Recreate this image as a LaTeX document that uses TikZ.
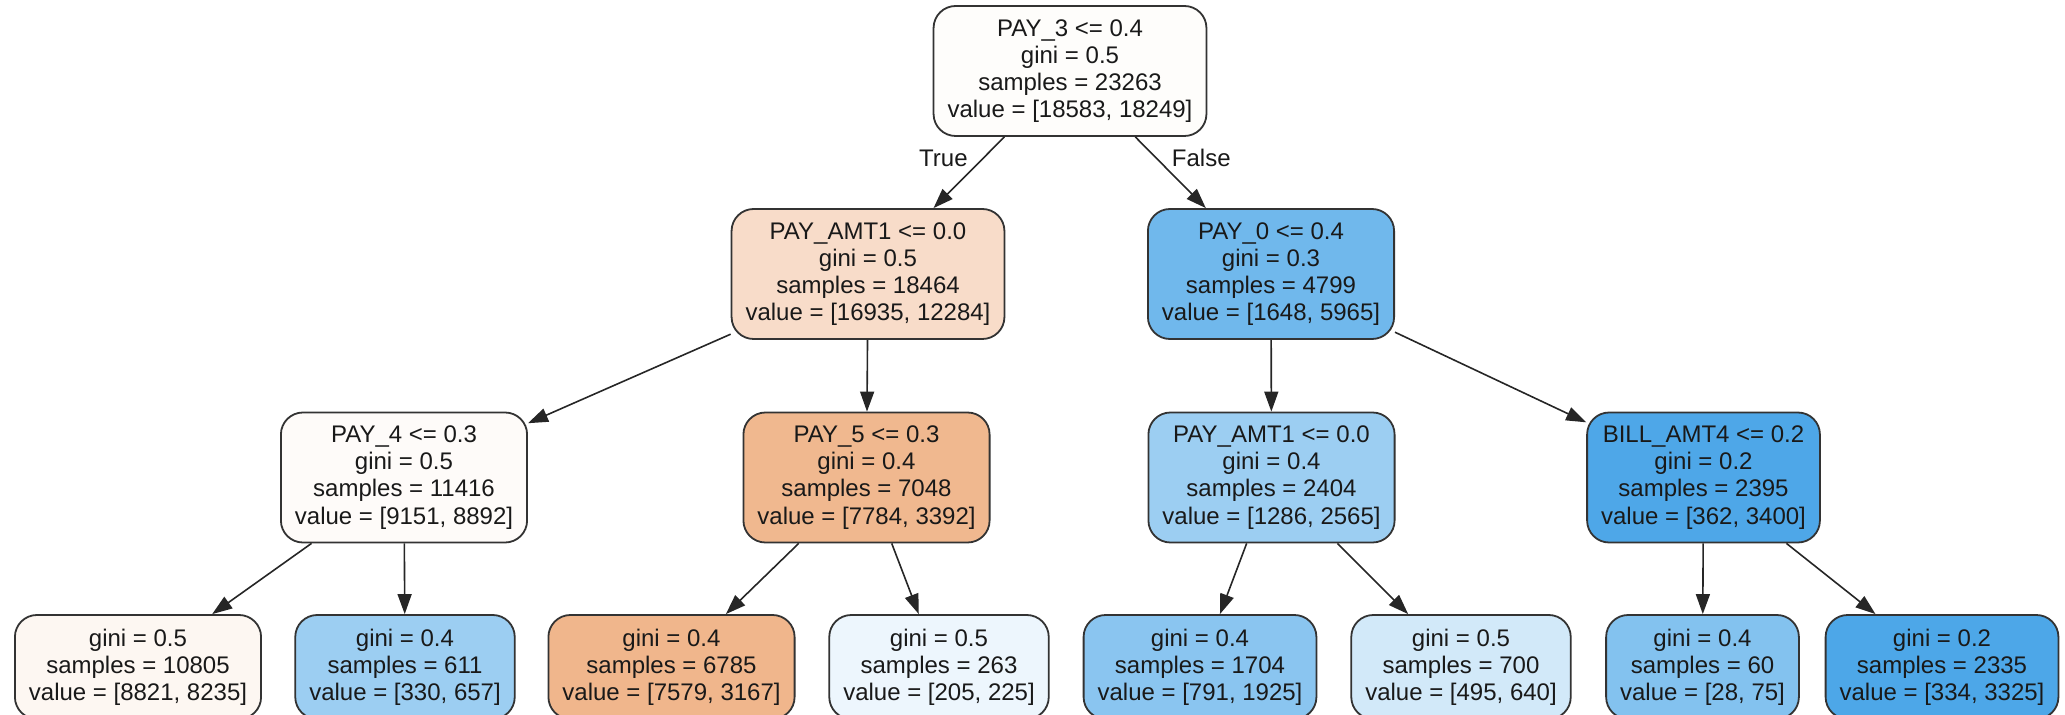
\documentclass[tikz,border=0pt]{standalone}
\usepackage{fontspec}
\setmainfont{Liberation Sans}
\usepackage{xcolor}
\usetikzlibrary{arrows.meta, positioning}

% node fills (class 0 orange, class 1 blue)
\definecolor{fillroot}{RGB}{254,253,251}
\definecolor{fillamtl}{RGB}{248,220,201}
\definecolor{fillpayz}{RGB}{112,184,236}
\definecolor{fillpayf}{RGB}{254,251,249}
\definecolor{fillpayv}{RGB}{240,184,143}
\definecolor{fillamtr}{RGB}{156,206,242}
\definecolor{fillbill}{RGB}{78,167,232}
\definecolor{leafa}{RGB}{253,247,242}
\definecolor{leafb}{RGB}{156,206,242}
\definecolor{leafc}{RGB}{240,182,140}
\definecolor{leafd}{RGB}{237,246,253}
\definecolor{leafe}{RGB}{138,197,240}
\definecolor{leaff}{RGB}{210,233,249}
\definecolor{leafg}{RGB}{131,194,239}
\definecolor{leafh}{RGB}{77,167,232}

\begin{document}
\begin{tikzpicture}[x=0.5pt, y=-0.5pt,
    font=\fontsize{12}{13.6}\selectfont, text=black!90,
    box/.style={draw=black!80, line width=0.9pt, rounded corners=11pt, align=center, inner xsep=7pt, inner ysep=2pt},
    split/.style={box, minimum height=65pt},
    leaf/.style={box, minimum height=52pt},
    edge/.style={-{Triangle[length=10pt, width=7pt]}, line width=0.8pt, draw=black!85}]
    \useasboundingbox (0,0) rectangle (2065,715);

    % level 0 and 1
    \node (root) [split, fill=fillroot] at (1070,71) {PAY\_3 <= 0.4\\gini = 0.5\\samples = 23263\\value = [18583, 18249]};
    \node (amtl) [split, fill=fillamtl] at (868,274) {PAY\_AMT1 <= 0.0\\gini = 0.5\\samples = 18464\\value = [16935, 12284]};
    \node (payz) [split, fill=fillpayz] at (1271,274) {PAY\_0 <= 0.4\\gini = 0.3\\samples = 4799\\value = [1648, 5965]};

    % level 2
    \node (payf) [split, fill=fillpayf] at (404,477.5) {PAY\_4 <= 0.3\\gini = 0.5\\samples = 11416\\value = [9151, 8892]};
    \node (payv) [split, fill=fillpayv] at (866.5,477.5) {PAY\_5 <= 0.3\\gini = 0.4\\samples = 7048\\value = [7784, 3392]};
    \node (amtr) [split, fill=fillamtr] at (1271.5,477.5) {PAY\_AMT1 <= 0.0\\gini = 0.4\\samples = 2404\\value = [1286, 2565]};
    \node (bill) [split, fill=fillbill] at (1703.5,477.5) {BILL\_AMT4 <= 0.2\\gini = 0.2\\samples = 2395\\value = [362, 3400]};

    % leaves
    \node (la) [leaf, fill=leafa] at (138,667) {gini = 0.5\\samples = 10805\\value = [8821, 8235]};
    \node (lb) [leaf, fill=leafb] at (405,667) {gini = 0.4\\samples = 611\\value = [330, 657]};
    \node (lc) [leaf, fill=leafc] at (671.5,667) {gini = 0.4\\samples = 6785\\value = [7579, 3167]};
    \node (ld) [leaf, fill=leafd] at (939,667) {gini = 0.5\\samples = 263\\value = [205, 225]};
    \node (le) [leaf, fill=leafe] at (1200,667) {gini = 0.4\\samples = 1704\\value = [791, 1925]};
    \node (lf) [leaf, fill=leaff] at (1461,667) {gini = 0.5\\samples = 700\\value = [495, 640]};
    \node (lg) [leaf, fill=leafg] at (1702.5,667) {gini = 0.4\\samples = 60\\value = [28, 75]};
    \node (lh) [leaf, fill=leafh] at (1942,667) {gini = 0.2\\samples = 2335\\value = [334, 3325]};

    \draw [edge] (root) -- node[pos=0.3, left=4pt] {True} (amtl);
    \draw [edge] (root) -- node[pos=0.3, right=4pt] {False} (payz);
    \draw [edge] (amtl) -- (payf);
    \draw [edge] (amtl) -- (payv);
    \draw [edge] (payz) -- (amtr);
    \draw [edge] (payz) -- (bill);
    \draw [edge] (payf) -- (la);
    \draw [edge] (payf) -- (lb);
    \draw [edge] (payv) -- (lc);
    \draw [edge] (payv) -- (ld);
    \draw [edge] (amtr) -- (le);
    \draw [edge] (amtr) -- (lf);
    \draw [edge] (bill) -- (lg);
    \draw [edge] (bill) -- (lh);
\end{tikzpicture}
\end{document}
